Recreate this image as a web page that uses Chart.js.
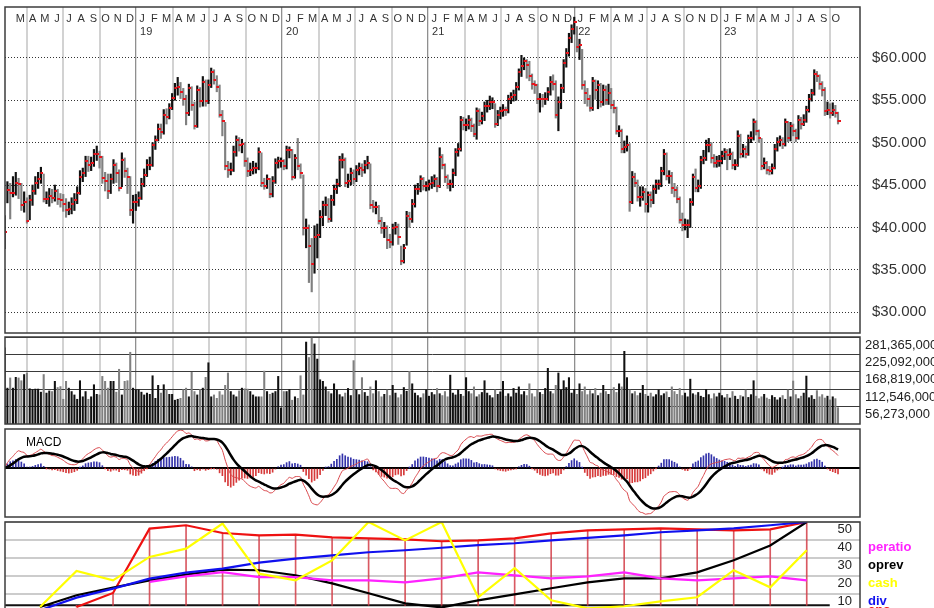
<!DOCTYPE html>
<html>
<head>
<meta charset="utf-8">
<script src="https://cdn.jsdelivr.net/npm/chart.js@4.4.0/dist/chart.umd.min.js"></script>
<style>
html, body { margin: 0; padding: 0; background: #fff; overflow: hidden; width: 934px; height: 608px; }
canvas { position: absolute; left: 0; }
</style>
</head>
<body>
<canvas id="price" width="934" height="338" style="top:0"></canvas>
<canvas id="vol" width="934" height="90" style="top:336px"></canvas>
<canvas id="macd" width="934" height="90" style="top:428px"></canvas>
<canvas id="fund" width="934" height="92" style="top:521px"></canvas>
<script>
// weekly bars, Feb 2018 .. Oct 2023
const closes = [
  39.5,44.4,44.1,44.1,45.3,45.1,42.6,43.0,40.8,43.2,
  44.3,45.3,45.7,46.4,43.3,43.3,43.7,43.5,44.3,43.3,
  43.2,42.8,42.0,42.2,42.8,43.2,44.1,46.0,46.4,47.8,
  47.4,47.6,48.7,48.7,48.3,45.8,45.5,44.3,45.7,47.4,
  46.4,44.7,48.0,46.6,46.0,42.0,43.0,43.0,43.5,45.1,
  46.2,47.4,47.4,49.7,50.3,51.6,51.2,53.3,53.0,54.1,
  55.3,56.4,56.6,56.0,55.1,53.5,56.4,54.5,52.0,56.2,
  54.9,57.2,54.9,56.8,58.3,57.4,56.6,53.3,52.6,47.2,
  46.8,46.8,48.9,50.3,49.7,49.9,47.8,46.6,46.8,47.0,
  47.0,48.9,45.3,44.9,45.7,43.9,45.5,47.6,47.8,47.8,
  47.2,49.1,49.1,46.0,48.2,47.2,46.4,39.9,39.9,37.8,
  35.7,38.9,39.1,41.2,42.6,42.6,41.0,43.2,44.5,45.1,
  48.0,48.0,45.3,45.5,46.4,45.7,46.8,47.0,46.8,47.4,
  47.6,42.6,42.4,42.4,40.8,39.9,39.9,38.5,38.3,39.9,
  40.1,38.9,36.0,37.6,41.4,41.0,42.8,44.5,44.5,45.7,
  44.9,44.9,45.1,
  45.3,45.7,44.9,48.3,47.4,45.9,45.1,45.1,46.4,48.9,
  49.3,52.7,52.1,52.1,52.7,52.0,51.0,53.7,52.6,53.1,
  54.3,54.3,54.8,54.8,52.2,53.3,53.7,53.9,53.8,55.2,
  55.4,55.6,56.6,58.3,59.0,59.6,59.2,57.9,56.9,56.8,
  55.2,55.2,55.1,55.2,56.0,57.1,56.9,53.3,54.8,56.4,
  59.4,60.6,62.3,63.4,64.2,61.3,61.5,56.8,55.8,55.2,
  54.1,57.3,56.2,56.8,54.8,56.2,55.0,55.8,54.5,54.1,
  51.4,51.4,49.3,49.5,49.7,43.0,45.9,45.3,43.6,43.6,
  44.2,42.8,43.8,43.2,44.5,45.1,45.1,46.6,48.7,46.1,
  46.1,44.7,44.4,43.4,40.9,40.3,40.3,40.3,43.0,45.9,
  44.7,44.9,48.0,48.2,49.7,49.7,48.2,47.6,47.8,47.8,
  48.4,48.9,48.5,48.7,47.4,47.4,50.8,48.7,49.3,48.7,
  50.5,50.6,52.4,51.4,50.6,47.2,47.6,46.8,46.6,47.0,
  49.3,50.1,50.3,49.8,52.4,50.5,52.0,51.4,50.5,52.7,
  52.2,52.7,53.9,55.2,55.8,58.1,57.9,56.9,56.2,53.7,
  53.9,53.5,53.9,53.5,52.6
];
const highs = [
  41.4,45.4,45.2,46.0,46.5,45.8,45.2,44.2,43.5,43.8,
  45.0,46.0,46.5,47.1,46.3,44.2,44.6,44.5,45.0,44.5,
  44.0,43.9,43.4,43.0,43.5,44.0,44.8,46.7,47.0,48.4,
  48.4,48.3,49.2,49.6,49.0,48.4,46.5,46.3,46.3,48.0,
  47.6,46.8,48.8,48.2,47.0,46.0,43.8,43.9,44.2,45.8,
  46.9,48.0,48.3,50.0,50.8,52.2,52.2,53.9,54.0,54.6,
  55.8,57.0,57.7,57.1,56.4,55.6,56.9,56.6,54.8,56.7,
  56.5,57.8,57.4,57.4,58.8,58.6,57.9,56.8,53.8,52.4,
  47.8,47.6,49.6,50.8,50.6,50.4,50.0,48.2,47.6,47.8,
  47.6,49.4,48.8,45.8,46.2,45.8,46.0,48.1,48.3,48.2,
  48.0,49.6,49.5,49.2,48.6,50.5,47.5,46.2,41.0,40.3,
  38.7,40.2,40.4,42.0,43.1,43.6,43.4,43.8,45.0,45.7,
  48.4,48.7,48.2,46.3,47.0,46.8,47.3,47.6,47.5,47.9,
  48.4,47.5,43.2,43.0,42.6,41.2,40.6,40.2,39.2,40.4,
  40.6,40.4,37.8,38.0,41.9,41.8,43.3,45.0,45.2,46.1,
  45.9,45.4,45.6,
  46.0,46.2,45.9,49.4,48.6,47.5,46.2,45.6,46.9,49.3,
  49.9,53.1,53.0,52.8,53.2,52.9,52.2,54.1,54.0,53.6,
  54.8,55.0,55.5,55.3,54.6,53.8,54.2,54.5,54.2,55.6,
  55.9,56.2,57.1,58.7,60.3,60.0,59.8,59.6,58.1,57.3,
  56.9,55.8,55.7,55.9,56.5,57.8,58.0,57.3,55.4,56.9,
  59.8,61.1,62.9,63.9,64.8,63.7,62.2,61.0,57.3,56.4,
  55.6,57.7,57.4,57.3,57.0,56.8,56.7,56.9,56.4,55.0,
  54.2,52.0,51.6,50.2,50.8,49.9,46.6,46.4,45.6,44.8,
  44.8,44.6,44.2,44.2,45.0,45.6,45.6,47.1,49.2,48.8,
  46.7,46.5,45.2,44.8,43.6,41.7,41.0,40.9,43.4,46.3,
  46.9,45.6,48.4,49.1,50.3,50.5,50.0,48.6,48.4,48.5,
  49.0,49.3,49.2,49.3,48.9,48.0,51.4,51.0,49.8,49.6,
  50.9,51.3,52.8,52.6,51.5,50.5,48.2,47.8,47.2,47.5,
  49.8,50.6,50.8,50.6,52.8,52.5,52.4,52.2,51.6,53.2,
  53.0,53.3,54.3,55.7,56.3,58.6,58.4,58.0,57.2,56.5,
  54.8,54.6,54.7,54.4,53.6
];
const lows = [
  37.5,42.9,41.0,43.6,43.8,43.4,42.0,41.8,40.5,40.9,
  42.6,43.9,44.6,45.2,43.0,42.8,42.5,42.9,43.1,42.7,
  42.4,41.9,41.2,41.5,41.6,42.0,42.8,43.9,45.4,46.0,
  46.6,46.7,47.2,47.9,47.0,45.2,44.3,43.4,44.0,45.2,
  45.3,44.3,44.8,45.9,44.0,41.4,40.5,42.0,42.5,43.3,
  44.8,46.0,46.8,47.2,49.2,50.2,50.5,51.0,52.2,52.8,
  53.9,55.0,55.6,55.2,54.4,52.1,53.2,53.8,51.6,51.8,
  54.2,54.3,54.3,54.6,56.5,56.9,56.0,53.0,50.8,46.8,
  45.9,46.2,46.6,48.4,49.0,48.8,47.2,46.0,46.1,46.3,
  46.4,46.8,44.8,44.5,44.6,43.5,43.6,45.2,47.0,47.1,
  46.8,46.9,48.2,45.6,45.8,46.8,45.8,39.1,37.6,33.5,
  32.4,34.6,36.4,38.8,40.2,41.4,40.6,40.7,42.6,44.0,
  44.8,47.0,44.8,44.7,45.0,45.1,45.4,46.2,46.0,46.4,
  46.9,42.2,41.8,41.6,40.4,39.3,38.8,37.5,37.6,37.9,
  39.2,38.0,35.6,35.8,37.9,40.0,40.6,42.4,43.9,44.2,
  44.4,44.3,44.4,
  44.6,44.8,44.2,44.7,46.9,45.3,44.6,44.3,44.7,46.1,
  48.4,49.0,51.5,51.4,51.6,51.3,50.7,50.4,52.0,52.2,
  52.6,53.6,53.9,54.0,51.8,52.0,52.8,53.1,53.2,53.5,
  54.6,54.9,55.0,56.2,57.8,58.6,57.6,57.3,56.3,55.8,
  54.6,53.6,54.2,54.5,55.0,55.6,56.2,52.9,51.4,54.0,
  55.9,58.9,60.2,61.8,62.8,60.7,59.8,56.3,54.6,54.3,
  53.7,53.8,55.1,54.0,54.2,54.4,54.5,54.5,54.0,53.5,
  51.0,50.7,48.8,48.8,49.0,41.9,42.8,44.8,43.1,42.5,
  43.2,41.8,41.8,42.4,42.8,44.0,44.5,44.8,46.2,45.6,
  45.2,44.0,43.6,42.9,40.5,39.6,39.7,38.8,40.0,42.6,
  44.2,44.2,44.6,47.5,47.9,48.9,47.6,47.1,47.1,47.2,
  47.5,48.0,46.8,48.0,46.9,46.8,47.2,48.2,48.3,48.2,
  48.5,50.0,50.3,50.9,50.0,46.8,46.9,46.3,46.2,46.3,
  46.9,49.0,49.6,49.3,49.6,50.1,50.2,50.8,50.1,50.4,
  51.6,52.0,52.4,53.6,54.9,55.6,57.2,56.3,55.5,53.2,
  53.3,52.9,53.2,53.0,52.2
];
// weekly volume, millions of shares
const volume = [
  246,116,149,116,151,149,140,160,165,114,
  111,113,113,103,160,100,107,105,138,118,
  121,80,138,116,105,94,80,140,88,105,
  80,88,127,96,94,154,138,116,138,138,
  103,177,94,138,140,232,116,111,111,103,
  94,100,96,156,83,125,100,127,111,96,
  96,77,80,83,111,116,88,167,105,94,
  111,116,151,198,88,94,83,105,94,125,
  165,105,94,88,107,116,114,113,105,94,
  88,88,88,171,105,96,100,105,154,52,
  105,105,111,77,88,83,156,94,265,215,
  292,259,210,143,138,
  120,105,98,130,110,95,88,100,115,92,
  205,110,95,150,102,90,120,98,140,105,
  88,96,110,92,125,100,85,95,118,106,
  170,130,100,92,85,98,110,90,102,95,
  115,98,92,105,88,158,100,94,110,96,
  90,150,105,98,120,88,95,102,140,100,
  92,85,110,96,104,138,90,98,88,115,
  100,120,95,105,92,130,98,88,110,102,
  96,115,180,105,98,125,165,110,140,118,
  150,100,112,96,130,105,120,95,108,98,
  115,92,100,125,105,96,110,118,102,130,
  120,235,150,110,98,105,92,100,125,96,
  90,100,88,95,110,92,98,104,86,120,
  105,96,115,92,100,88,145,98,94,102,
  90,86,112,95,82,98,88,100,92,85,
  96,84,105,90,80,92,88,110,86,95,
  140,90,82,88,96,84,80,92,86,78,
  85,92,80,110,88,139,95,82,90,100,
  155,85,92,80,108,88,95,84,90,78,88,82,53
];
// quarterly fundamentals, drawn on a 0..50 scale
const eps     = [null,2.8,10.6,46.3,48.2,43.9,42.6,43.0,41.5,40.9,40.4,39.3,39.8,40.9,43.7,45.4,45.9,46.5,45.9,45.4,45.9,50];
const div     = [1,8,13,18.5,21.9,24.1,27.4,29.7,31.5,33.2,34.3,35.7,37.1,38.2,39.8,41.2,42.6,44.3,45.4,46.5,48.2,50];
const oprev   = [2.8,9.3,13.5,17.6,20.8,23.5,23.2,20.4,15.9,10.4,4.8,2.6,6.5,9.8,13.2,16.5,18.7,18.7,22,28.7,37,50];
const cash    = [2.8,22.8,17.6,30.6,35.2,49.1,21.3,17.6,28.7,50,39.8,50,8.2,24.3,6.5,2,3.2,5.9,8.2,23.2,13.7,34.3];
const peratio = [null,null,null,16.7,19.8,22.2,19.4,19.4,17.6,17.6,16.5,18.7,22,20.4,18.7,19.8,22,18.7,17.6,18.7,19.8,17.6];

const monthLetters = ['J','F','M','A','M','J','J','A','S','O','N','D'];
const priceTicks = [30,35,40,45,50,55,60];
const volTicks = [56.273,112.546,168.819,225.092,281.365];
const fundTicks = [10,20,30,40,50];
const fundNames = ['peratio','oprev','cash','div','eps'];
const fundColors = ['#ff22ff','#000000','#ffff00','#1010ee','#ee1111'];
const fundLegendRows = [40,30,20,10,5];

// x axis runs in months since Jan 2018
const xMin = 1.2326, xMax = 71.487;
const firstLabelMonth = 2, lastLabelMonth = 69;
const segSplit = 153;
const segA = [1.2, 36.07], segB = [36.3, 69.68];
const fundStart = 4.11;
const epsBase = 3.7;

const FONT = '"Liberation Sans", Arial, sans-serif';
Chart.defaults.font.family = FONT;

const n = closes.length;
const stepA = (segA[1] - segA[0]) / (segSplit - 1);
const stepB = (segB[1] - segB[0]) / (n - segSplit - 1);
const weekX = closes.map((c, i) => i < segSplit ? segA[0] + i * stepA : segB[0] + (i - segSplit) * stepB);
const barColors = closes.map((c, i) => (i === 0 || c >= closes[i - 1]) ? '#111111' : '#808080');
const fundX = div.map((v, k) => fundStart + 3 * k);

const gridMonths = [];
for (let m = 3; m <= 69; m += 3) gridMonths.push(m);

function ema(src, len) {
  const k = 2 / (len + 1);
  const out = [];
  src.forEach((v, i) => out.push(i ? v * k + out[i - 1] * (1 - k) : v));
  return out;
}
const ema12 = ema(closes, 12), ema26 = ema(closes, 26);
const macdLine = ema12.map((v, i) => v - ema26[i]);
const signalLine = ema(macdLine, 9);
const histo = macdLine.map((v, i) => v - signalLine[i]);

let macdMax = Math.max(...macdLine, ...signalLine) * 1.03;
let macdMin = -macdMax * 49 / 39;
const lowV = Math.min(...macdLine, ...signalLine) * 1.03;
if (lowV < macdMin) { macdMin = lowV; macdMax = -macdMin * 39 / 49; }

const framePlugin = {
  id: 'frame',
  afterDraw(chart) {
    const { ctx, chartArea: a } = chart;
    ctx.save();
    ctx.strokeStyle = '#3c3c3c';
    ctx.lineWidth = 1.5;
    ctx.strokeRect(a.left, a.top, a.right - a.left, a.bottom - a.top);
    ctx.restore();
  }
};

const monthLabels = {
  id: 'monthLabels',
  beforeDatasetsDraw(chart) {
    const { ctx } = chart;
    const x = chart.scales.x;
    ctx.save();
    ctx.fillStyle = '#333';
    ctx.font = '11px ' + FONT;
    for (let m = firstLabelMonth; m <= lastLabelMonth; m++) {
      ctx.textAlign = 'center';
      ctx.fillText(monthLetters[m % 12], x.getPixelForValue(m + 0.5), 22);
      if (m % 12 === 0) {
        ctx.textAlign = 'left';
        ctx.fillText(String(18 + m / 12), x.getPixelForValue(m) + 4, 35);
      }
    }
    ctx.restore();
  }
};

const macdLabel = {
  id: 'macdLabel',
  afterDatasetsDraw(chart) {
    const { ctx } = chart;
    ctx.save();
    ctx.fillStyle = '#000';
    ctx.font = '12px ' + FONT;
    ctx.fillText('MACD', 26, 18);
    ctx.restore();
  }
};

// value labels (inside the panel) and series names (right margin) of the fundamentals panel
const fundLabels = {
  id: 'fundLabels',
  afterDraw(chart) {
    const { ctx, chartArea: a } = chart;
    const y = chart.scales.y;
    ctx.save();
    ctx.textBaseline = 'middle';
    ctx.font = '13px ' + FONT;
    ctx.fillStyle = '#222';
    ctx.textAlign = 'right';
    fundTicks.forEach(v => ctx.fillText(String(v), a.right - 8, y.getPixelForValue(v) + 7));
    ctx.font = 'bold 13px ' + FONT;
    ctx.textAlign = 'left';
    fundNames.forEach((name, i) => {
      ctx.fillStyle = fundColors[i];
      ctx.fillText(name, a.right + 8, y.getPixelForValue(fundLegendRows[i]) + 7);
    });
    ctx.restore();
  }
};

function xAxis(showGrid) {
  return {
    type: 'linear', min: xMin, max: xMax, offset: false,
    display: showGrid,
    ticks: { display: false },
    grid: {
      offset: false, drawTicks: false,
      color: c => (c.tick && c.tick.value % 12 === 0) ? '#8f8f8f' : '#d2d2d2',
      lineWidth: c => (c.tick && c.tick.value % 12 === 0) ? 1.3 : 2
    },
    border: { display: false },
    afterBuildTicks: s => { s.ticks = gridMonths.map(v => ({ value: v })); },
    afterFit: s => { s.height = 0; s.paddingLeft = 0; s.paddingRight = 0; }
  };
}

function fitRight(s) { s.width = 74; s.paddingTop = 0; s.paddingBottom = 0; }

const baseOptions = {
  responsive: false, animation: false, devicePixelRatio: 1, events: [],
  plugins: { legend: { display: false }, tooltip: { enabled: false } }
};

// close tick: small red mark on the right of each bar
const closeTick = document.createElement('canvas');
closeTick.width = 5; closeTick.height = 2;
const tctx = closeTick.getContext('2d');
tctx.fillStyle = '#e8141c';
tctx.fillRect(2, 0, 3, 2);

new Chart(document.getElementById('price'), {
  type: 'bar',
  data: {
    datasets: [
      {
        type: 'scatter', order: 1, showLine: false,
        data: closes.map((c, i) => ({ x: weekX[i], y: c })),
        pointStyle: closeTick, pointRadius: 2
      },
      {
        order: 2,
        data: closes.map((c, i) => ({ x: weekX[i], y: [lows[i], highs[i]] })),
        backgroundColor: barColors, barThickness: 1.5
      }
    ]
  },
  options: {
    ...baseOptions,
    layout: { padding: { left: 5, right: 0, top: 7, bottom: 1 } },
    scales: {
      x: xAxis(true),
      y: {
        position: 'right', min: 27.55, max: 66.0,
        afterBuildTicks: s => { s.ticks = priceTicks.map(v => ({ value: v })); },
        ticks: { callback: v => '$' + Number(v).toFixed(3), padding: 12, color: '#333', font: { size: 15 }, autoSkip: false },
        grid: { color: '#333', lineWidth: 1, drawTicks: false },
        border: { display: false, dash: [1, 2] },
        afterFit: fitRight
      }
    }
  },
  plugins: [monthLabels, framePlugin]
});

new Chart(document.getElementById('vol'), {
  type: 'bar',
  data: {
    datasets: [{
      data: volume.map((v, i) => ({ x: weekX[i], y: v })),
      backgroundColor: barColors, barThickness: 1.4
    }]
  },
  options: {
    ...baseOptions,
    layout: { padding: { left: 5, right: 0, top: 1, bottom: 2 } },
    scales: {
      x: xAxis(true),
      y: {
        position: 'right', min: 0, max: 281.365,
        afterBuildTicks: s => { s.ticks = volTicks.map(v => ({ value: v })); },
        ticks: {
          callback: v => Math.round(v * 1e6).toLocaleString('en-US'),
          padding: 5, labelOffset: 8, color: '#222', font: { size: 13 },
          autoSkip: false, sampleSize: 10
        },
        grid: { color: '#3a3a3a', lineWidth: 1, drawTicks: false },
        border: { display: false },
        afterFit: fitRight
      }
    }
  },
  plugins: [framePlugin]
});

new Chart(document.getElementById('macd'), {
  type: 'bar',
  data: {
    datasets: [
      {
        type: 'line', order: 1, data: signalLine.map((v, i) => ({ x: weekX[i], y: v })),
        borderColor: '#000', borderWidth: 2.5, pointRadius: 0, tension: 0.2
      },
      {
        type: 'line', order: 2, data: macdLine.map((v, i) => ({ x: weekX[i], y: v })),
        borderColor: '#d8454a', borderWidth: 1, pointRadius: 0, tension: 0.2
      },
      {
        order: 3, data: histo.map((v, i) => ({ x: weekX[i], y: v })),
        backgroundColor: histo.map(v => v >= 0 ? '#3333aa' : '#d63a3a'), barThickness: 1
      }
    ]
  },
  options: {
    ...baseOptions,
    layout: { padding: { left: 5, right: 0, top: 1, bottom: 1 } },
    scales: {
      x: { type: 'linear', min: xMin, max: xMax, display: false, offset: false },
      y: {
        position: 'right', min: macdMin, max: macdMax,
        afterBuildTicks: s => { s.ticks = [{ value: 0 }]; },
        ticks: { display: false },
        grid: { color: '#000', lineWidth: 2, drawTicks: false },
        border: { display: false },
        afterFit: fitRight
      }
    }
  },
  plugins: [macdLabel, framePlugin]
});

const fundLine = (arr, color, order) => ({
  type: 'line', order, data: arr.map((v, k) => ({ x: fundX[k], y: v })),
  borderColor: color, borderWidth: 2.2, pointRadius: 0, tension: 0
});

new Chart(document.getElementById('fund'), {
  type: 'bar',
  data: {
    datasets: [
      fundLine(cash, fundColors[2], 1),
      fundLine(peratio, fundColors[0], 2),
      fundLine(div, fundColors[3], 3),
      fundLine(oprev, fundColors[1], 4),
      fundLine(eps, fundColors[4], 5),
      {
        order: 6, data: eps.map((v, k) => ({ x: fundX[k], y: v === null ? null : [epsBase, v] })),
        backgroundColor: 'rgba(210,60,70,0.85)', barThickness: 1
      },
      {
        type: 'line', order: 7, data: [{ x: xMin, y: epsBase }, { x: lastLabelMonth, y: epsBase }],
        borderColor: '#111', borderWidth: 2, pointRadius: 0
      }
    ]
  },
  options: {
    ...baseOptions,
    layout: { padding: { left: 5, right: 0, top: 1, bottom: 1 } },
    scales: {
      x: { type: 'linear', min: xMin, max: xMax, display: false, offset: false },
      y: {
        position: 'right', min: 0, max: 50,
        afterBuildTicks: s => { s.ticks = fundTicks.map(v => ({ value: v })); },
        ticks: { display: false },
        grid: { color: '#cccccc', lineWidth: 2, drawTicks: false },
        border: { display: false },
        afterFit: fitRight
      }
    }
  },
  plugins: [framePlugin, fundLabels]
});
</script>
</body>
</html>
